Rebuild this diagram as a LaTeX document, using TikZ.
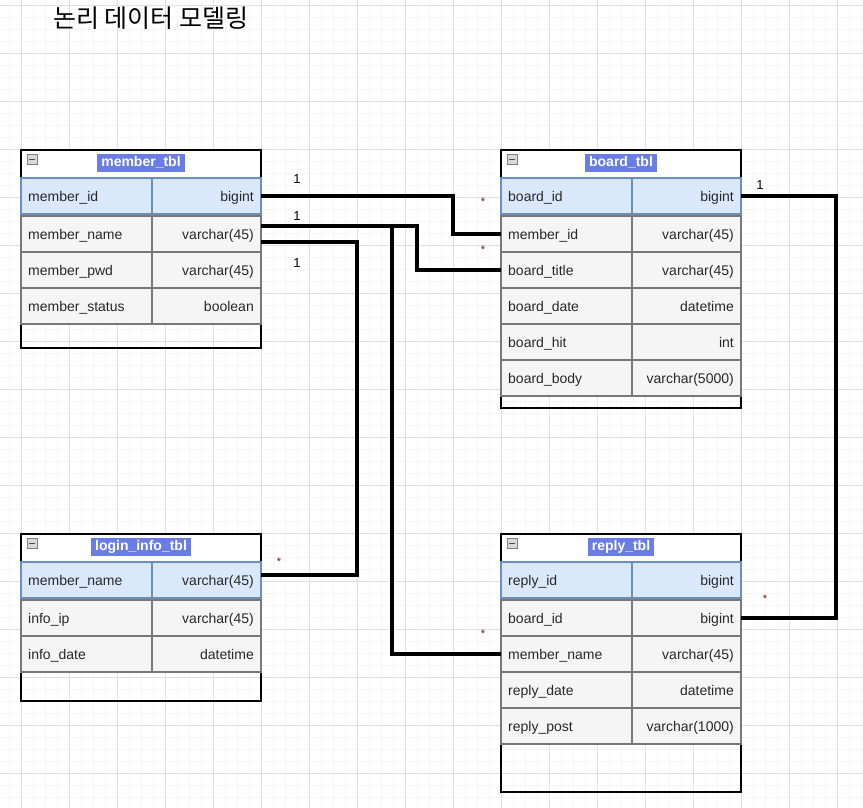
\documentclass[tikz,border=0pt]{standalone}
\usepackage{fontspec}
\setmainfont{Liberation Sans}
\newfontfamily\krfont{Noto Sans CJK KR}
\definecolor{gridmaj}{RGB}{224,224,224}
\definecolor{gridmin}{RGB}{246,246,246}
\definecolor{keyfill}{RGB}{218,232,252}
\definecolor{keydraw}{RGB}{108,142,191}
\definecolor{cellfill}{RGB}{245,245,245}
\definecolor{celldraw}{RGB}{120,120,120}
\definecolor{hdrblue}{RGB}{106,124,230}
\definecolor{rowtext}{RGB}{40,40,40}
\definecolor{starred}{RGB}{150,0,0}
\tikzset{
  keycell/.style={draw=keydraw, fill=keyfill, line width=1.4pt, minimum height=36pt, inner sep=0pt, outer sep=0pt},
  cell/.style={draw=celldraw, fill=cellfill, line width=1.4pt, minimum height=36pt, inner sep=0pt, outer sep=0pt},
  rowtxt/.style={font=\fontsize{14}{16}\selectfont, text=rowtext, inner sep=0pt, text height=10pt, text depth=3pt},
  tframe/.style={draw=black, line width=1.2pt, minimum width=240pt, inner sep=0pt, outer sep=0pt},
  thead/.style={draw=black, fill=white, line width=1.2pt, minimum width=240pt, minimum height=28pt, inner sep=0pt, outer sep=0pt},
  ttitle/.style={fill=hdrblue, text=white, font=\fontsize{14}{16}\selectfont\bfseries, inner xsep=4pt, inner ysep=2.5pt, text height=10pt, text depth=3pt},
  icon/.style={draw=gray, fill=gray!30, line width=0.8pt, minimum size=10pt, inner sep=0pt,
    path picture={\draw[line width=1.4pt, black!70] ([xshift=2pt]path picture bounding box.west) -- ([xshift=-2pt]path picture bounding box.east);}},
  conn/.style={draw=black, line width=3.2pt},
  onelbl/.style={font=\fontsize{13}{15}\selectfont, text=black, inner sep=0pt},
  starlbl/.style={font=\fontsize{11}{13}\selectfont, text=starred, inner sep=0pt},
}
\newcommand\erow[6]{%
  \node[#6, minimum width=131pt, anchor=north west] (#1-l) at (#2,#3) {};
  \node[#6, minimum width=109pt, anchor=north west] (#1-t) at (#2+131,#3) {};
  \node[rowtxt, anchor=west] (#1-a) at ([xshift=7pt, yshift=-1.5pt]#1-l.west) {#4};
  \node[rowtxt, anchor=east] (#1-b) at ([xshift=-7pt, yshift=-1.5pt]#1-t.east) {#5};
}
\newcommand\etable[5]{%
  \node[tframe, anchor=north west, minimum height=#4pt] (#1) at (#2,#3) {};
  \node[thead, anchor=north west] (#1-h) at (#2,#3) {};
  \node[ttitle] (#1-title) at ([yshift=1pt]#1-h.center) {#5};
  \node[icon, anchor=north west] (#1-icon) at (#2+6,#3+4) {};
}
\begin{document}
\begin{tikzpicture}[x=1pt,y=-1pt]
\useasboundingbox (0,0) rectangle (863,808);
\fill[white] (0,0) rectangle (863,808);
% grid
\foreach \k in {0,...,71} {
  \draw[gridmin, line width=1pt] (9.3+12*\k,0) -- (9.3+12*\k,808);
}
\foreach \k in {0,...,67} {
  \draw[gridmin, line width=1pt] (0,5.3+12*\k) -- (863,5.3+12*\k);
}
\foreach \k in {0,...,17} {
  \draw[gridmaj, line width=1pt] (21.3+48*\k,0) -- (21.3+48*\k,808);
}
\foreach \k in {0,...,16} {
  \draw[gridmaj, line width=1pt] (0,5.3+48*\k) -- (863,5.3+48*\k);
}
% title
\node[anchor=west, inner sep=0pt, font=\krfont\fontsize{25}{29}\selectfont] (title) at (53,18) {논리 데이터 모델링};

% member_tbl
\etable{mt}{21}{150}{198}{member\_tbl}
\erow{mid}{21}{178}{member\_id}{bigint}{keycell}
\erow{mname}{21}{216}{member\_name}{varchar(45)}{cell}
\erow{mpwd}{21}{252}{member\_pwd}{varchar(45)}{cell}
\erow{mstat}{21}{288}{member\_status}{boolean}{cell}

% board_tbl
\etable{bt}{501}{150}{258}{board\_tbl}
\erow{bid}{501}{178}{board\_id}{bigint}{keycell}
\erow{bmid}{501}{216}{member\_id}{varchar(45)}{cell}
\erow{btitle}{501}{252}{board\_title}{varchar(45)}{cell}
\erow{bdate}{501}{288}{board\_date}{datetime}{cell}
\erow{bhit}{501}{324}{board\_hit}{int}{cell}
\erow{bbody}{501}{360}{board\_body}{varchar(5000)}{cell}

% login_info_tbl
\etable{lt}{21}{534}{167}{login\_info\_tbl}
\erow{lmname}{21}{562}{member\_name}{varchar(45)}{keycell}
\erow{lip}{21}{600}{info\_ip}{varchar(45)}{cell}
\erow{ldate}{21}{636}{info\_date}{datetime}{cell}

% reply_tbl
\etable{rt}{501}{534}{258}{reply\_tbl}
\erow{rid}{501}{562}{reply\_id}{bigint}{keycell}
\erow{rbid}{501}{600}{board\_id}{bigint}{cell}
\erow{rmname}{501}{636}{member\_name}{varchar(45)}{cell}
\erow{rdate}{501}{672}{reply\_date}{datetime}{cell}
\erow{rpost}{501}{708}{reply\_post}{varchar(1000)}{cell}

% connectors
\draw[conn] (mid-t.east) -- ++(192,0) |- (bmid-l.west);
\draw[conn] ([yshift=8pt]mname-t.east) -- ++(156,0) |- (btitle-l.west);
\draw[conn] ([yshift=8pt]mname-t.east) -- ++(131,0) |- (rmname-l.west);
\draw[conn] ([yshift=-8pt]mname-t.east) -- ++(96,0) |- ([yshift=5pt]lmname-t.east);
\draw[conn] (bid-t.east) -- ++(95,0) |- (rbid-t.east);

% multiplicity labels
\node[onelbl] (o1) at (297,179) {1};
\node[onelbl] (o2) at (297,216) {1};
\node[onelbl] (o3) at (297,263) {1};
\node[onelbl] (o4) at (760,185) {1};
\node[starlbl] (s1) at (483,202) {*};
\node[starlbl] (s2) at (483,250) {*};
\node[starlbl] (s3) at (483,634) {*};
\node[starlbl] (s4) at (279,562) {*};
\node[starlbl] (s5) at (765,599) {*};
\end{tikzpicture}
\end{document}
